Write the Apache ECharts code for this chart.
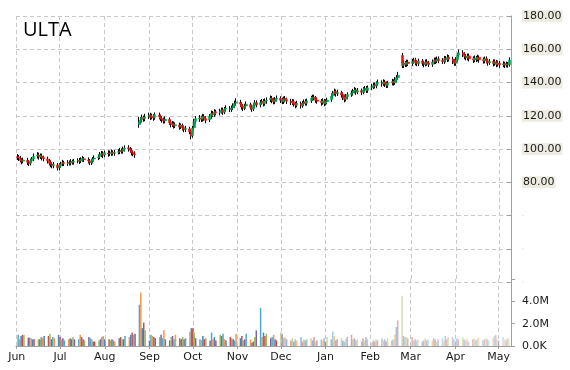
<!DOCTYPE html>
<html><head><meta charset="utf-8">
<script src="https://cdn.jsdelivr.net/npm/echarts@6/dist/echarts.min.js"></script>
<style>html,body{margin:0;padding:0;background:#fff}#c{width:570px;height:370px}</style>
</head><body><div id="c"></div>
<script>
const ticker = 'ULTA';
const firstTradingDay = [2014, 5, 2];          // 2 Jun 2014 (weekdays follow)
const axisStart = [2014, 5, 1];
const axisEnd = [2015, 4, 9];
const monthNames = ['Jan','Feb','Mar','Apr','May','Jun','Jul','Aug','Sep','Oct','Nov','Dec'];
const priceTicks = [80, 100, 120, 140, 160, 180];
const volumeTicks = {0: '0.0K', 2: '2.0M', 4: '4.0M'};

const opens = [
95.4,95.1,94.4,93.0,92.7, 93.2,92.0,91.5,92.9,94.1, 95.8,96.2,95.3,95.7,94.9, 94.0,92.8,91.6,90.9,90.0,
90.4,88.9,89.9,91.2,91.8, 91.3,91.9,91.6,92.4,92.1, 92.7,93.0,92.8,93.9,94.1, 93.4,92.9,91.9,92.6,94.0,
94.8,95.4,96.6,97.1,96.4, 97.6,97.2,97.5,98.0,97.5, 98.1,98.5,99.1,98.7,99.9, 100.8,100.0,99.1,97.9,97.0,
114.8,116.5,117.6,118.8,118.2, 119.5,120.3,119.2,119.6,118.9, 120.4,119.4,118.3,117.5,116.9, 117.8,116.0,114.8,115.1,114.0,
114.5,113.3,114.0,112.9,111.8, 112.1,110.2,108.1,112.8,116.7, 118.0,118.7,118.0,119.6,118.3, 117.5,119.8,121.2,120.9,122.4,
121.8,122.7,123.5,122.2,124.0, 124.4,123.9,124.8,126.1,127.6, 128.0,126.9,125.3,124.7,125.9, 126.7,125.2,124.1,126.3,127.9,
126.6,128.0,128.7,127.3,128.9, 129.6,130.6,129.2,128.5,129.9, 130.4,129.4,128.6,130.3,129.7, 128.7,128.0,128.5,127.1,126.4,
127.3,126.1,127.3,128.4,127.6, 129.0,130.5,131.1,130.7,129.5, 128.8,127.9,129.0,127.5,128.4, 129.7,131.9,133.5,134.6,133.3,
133.8,132.7,131.1,129.9,131.6, 132.8,133.7,134.9,135.6,134.3, 135.1,134.2,135.7,136.5,135.3, 136.9,137.6,138.5,138.0,139.4,
140.0,139.3,140.4,139.1,138.3, 139.7,140.6,139.9,141.7,143.0, 156.2,150.4,151.7,150.9,152.3, 151.5,152.7,153.5,152.1,151.4,
152.9,151.6,151.0,152.5,151.7, 150.9,152.4,153.6,152.9,154.2, 153.3,152.7,154.4,153.8,155.3, 154.1,152.9,151.6,153.7,156.5,
157.9,157.0,155.7,154.9,156.0, 154.3,153.6,154.8,154.0,155.2, 153.7,153.0,154.3,153.1,151.9, 152.7,151.5,152.4,151.0,151.7,
150.6,151.3,150.5,151.1,150.7
];
const closes = [
95.0,94.6,93.2,92.5,93.4, 92.1,91.3,92.8,93.9,95.6, 96.4,95.2,96.0,94.8,94.1, 93.0,91.5,90.8,89.9,90.6,
88.6,89.8,91.0,91.9,91.2, 91.8,91.5,92.3,92.0,92.6, 93.1,92.7,93.8,94.2,93.5, 93.0,91.8,92.5,93.9,94.6,
95.2,96.5,97.3,96.2,97.8, 97.0,97.6,98.1,97.4,97.9, 98.4,99.0,98.6,99.8,100.6, 100.1,99.2,97.8,97.1,96.5,
116.2,117.5,118.9,118.0,119.3, 120.2,119.0,119.8,118.7,120.6, 119.5,118.2,117.6,116.8,118.0, 115.9,114.7,115.2,113.9,114.6,
113.2,114.1,112.8,111.7,112.3, 110.4,107.8,112.6,116.5,118.2, 118.6,117.9,119.5,118.4,117.2, 119.6,121.4,120.8,122.3,121.7,
122.6,123.4,122.1,123.9,124.5, 123.8,124.6,126.0,127.3,128.2, 127.0,125.2,124.6,125.8,126.9, 125.1,124.0,126.2,127.8,126.5,
127.9,128.6,127.2,128.8,129.4, 130.5,129.1,128.4,129.8,130.6, 129.3,128.5,130.2,129.6,128.8, 127.9,128.6,127.0,126.3,127.4,
126.0,127.2,128.3,127.5,128.9, 130.4,131.2,130.6,129.4,128.7, 127.8,128.9,127.4,128.3,129.5, 131.8,133.4,134.5,133.2,134.0,
132.6,131.0,129.8,131.5,132.7, 133.6,134.8,135.5,134.2,135.0, 134.1,135.6,136.4,135.2,136.8, 137.5,138.4,137.9,139.3,140.1,
139.2,140.3,139.0,138.2,139.6, 140.5,139.8,141.6,142.9,144.2, 150.3,151.6,150.8,152.2,151.4, 152.6,153.4,152.0,151.3,152.8,
151.5,150.9,152.4,151.6,150.8, 152.3,153.5,152.8,154.1,153.2, 152.6,154.3,153.7,155.2,154.0, 152.8,151.5,153.6,156.4,157.8,
156.9,155.6,154.8,155.9,154.2, 153.5,154.7,153.9,155.1,153.6, 152.9,154.2,153.0,151.8,152.6, 151.4,152.3,150.9,151.6,150.5,
151.2,150.4,151.0,150.6,153.5
];
const lows = [
93.4,92.8,91.9,90.8,91.4, 90.4,89.7,90.1,91.6,92.7, 94.3,93.6,94.0,93.1,92.6, 91.3,90.1,89.0,88.4,88.4,
87.1,87.3,88.7,89.7,89.8, 89.8,90.1,90.1,90.6,90.6, 91.4,91.0,91.6,92.3,92.1, 91.3,90.3,90.4,91.4,92.5,
93.3,93.9,95.2,94.5,95.1, 95.3,95.8,95.9,96.0,95.9, 96.7,96.9,97.2,97.2,98.5, 98.4,97.7,96.1,95.6,94.7,
112.8,114.9,116.0,116.4,116.7, 118.0,117.4,117.8,117.0,117.6, 117.8,116.8,115.9,115.3,115.4, 114.4,113.0,113.3,112.3,112.6,
111.6,112.0,111.1,110.1,110.2, 108.9,105.8,106.8,111.3,115.2, 116.3,116.3,116.5,117.0,115.5, 116.2,118.2,119.2,119.4,120.2,
120.2,121.3,120.5,121.0,122.4, 122.2,122.3,123.4,124.6,126.0, 125.3,123.7,122.8,123.4,124.3, 123.7,122.3,122.9,124.8,125.1,
125.1,126.6,125.6,126.0,127.2, 128.2,127.5,126.9,127.0,128.5, 127.7,127.0,127.1,128.1,127.1, 126.4,126.4,125.5,124.5,125.1,
124.3,124.8,125.8,126.1,126.1, 127.7,128.9,129.2,127.8,127.2, 126.1,126.6,125.7,126.2,126.9, 128.4,130.4,132.1,131.5,131.9,
130.9,129.5,128.1,128.6,130.1, 131.4,132.1,133.5,132.6,133.0, 132.4,132.9,134.1,133.7,133.8, 135.4,136.0,136.4,136.5,138.0,
137.5,138.0,137.3,136.7,136.8, 138.3,138.1,138.6,140.1,141.7, 148.7,148.8,149.3,149.4,149.9, 149.9,151.3,150.3,149.8,149.9,
150.1,149.1,149.7,150.0,149.3, 149.4,151.0,151.1,151.6,151.6, 151.1,151.2,152.2,152.3,152.6, 151.1,150.0,150.1,152.4,154.9,
155.3,153.9,153.3,153.3,152.7, 151.8,152.2,152.2,152.7,151.9, 151.4,151.5,151.5,150.1,150.6, 149.7,150.1,149.2,149.6,148.8,
149.2,148.7,149.1,148.9,149.5
];
const highs = [
97.0,96.4,95.9,94.5,94.8, 94.7,93.3,94.2,95.2,97.3, 98.1,97.8,97.3,97.2,96.0, 95.4,93.9,93.2,92.0,92.2,
91.6,91.4,92.3,93.5,92.9, 93.3,93.1,93.9,93.6,94.1, 94.4,94.6,95.0,95.9,95.2, 95.0,94.0,94.1,95.1,96.2,
96.7,98.2,98.8,98.6,99.0, 99.2,99.0,99.7,99.2,99.5, 99.9,100.7,100.3,101.4,102.2, 102.3,101.2,100.5,99.1,98.6,
119.2,119.3,120.7,120.1,121.2, 121.9,121.8,121.3,121.0,122.0, 121.9,120.7,119.8,118.9,119.6, 119.0,117.5,116.8,116.6,116.0,
115.9,115.4,115.3,114.1,113.9, 113.4,111.7,114.0,118.2,119.8, 120.4,120.0,121.1,120.9,119.8, 121.0,123.1,122.8,124.0,123.6,
124.2,124.9,124.9,125.3,126.3, 125.8,126.2,127.5,129.1,130.5, 129.6,128.2,126.9,127.2,128.6, 127.9,126.7,127.6,129.4,129.3,
129.5,130.1,130.0,130.4,131.0, 132.2,131.9,130.8,131.2,132.2, 131.7,130.9,131.6,131.9,130.9, 130.2,130.0,129.9,128.4,129.0,
128.5,128.8,129.8,129.9,130.3, 132.0,132.7,132.6,131.9,131.0, 130.0,130.5,130.1,129.9,130.9, 133.5,134.9,136.3,135.8,135.7,
135.0,134.1,132.3,133.1,134.1, 135.2,136.2,137.2,136.8,136.7, 136.4,137.2,137.9,137.9,138.2, 139.2,139.9,140.0,140.7,141.8,
141.3,141.9,141.6,140.6,141.0, 142.2,141.9,143.2,144.4,146.4, 157.8,153.3,152.9,153.8,153.7, 154.2,154.9,154.9,153.4,154.4,
154.1,153.1,153.8,154.0,153.0, 153.9,155.0,155.1,155.6,155.7, 154.6,156.0,155.9,156.9,156.5, 155.5,154.1,155.2,157.9,159.8,
159.5,158.2,157.1,157.4,157.4, 155.7,156.3,156.0,156.7,156.3, 155.1,155.6,155.7,154.3,154.2, 153.9,153.9,153.6,153.2,152.9,
152.8,152.5,152.6,152.3,155.1
];
// volume in millions of shares
const volumes = [
1.0,0.6,0.9,1.0,1.0, 0.75,0.75,0.7,0.6,0.6, 0.6,0.6,0.8,0.7,0.9, 0.9,1.1,0.6,0.8,0.7,
1.0,0.8,0.6,0.7,0.5, 0.6,0.7,0.6,0.8,0.6, 0.6,1.0,0.8,0.6,0.5, 0.8,0.7,0.6,0.4,0.4,
0.5,0.6,0.8,0.9,0.6, 0.6,0.5,0.6,0.5,0.4, 0.7,0.8,0.6,0.6,0.9, 0.8,1.0,1.2,1.0,1.1,
3.7,4.8,1.6,2.1,1.4, 0.5,1.0,0.9,0.8,0.7, 0.8,1.0,0.7,1.4,0.6, 0.5,0.8,0.9,0.6,1.0,
0.7,0.6,0.8,0.6,0.7, 1.3,1.6,1.6,1.2,0.7, 0.6,0.5,0.9,0.6,0.7, 0.5,1.2,0.6,0.8,0.5,
1.0,0.9,1.1,0.6,0.5, 0.8,0.7,0.6,0.5,1.1, 0.7,0.9,0.5,0.6,1.1, 0.6,0.3,0.4,0.8,1.4,
3.4,0.8,1.2,0.9,1.1, 0.7,0.8,1.0,0.6,0.5, 1.2,1.1,0.7,0.8,0.6, 0.5,0.7,0.4,0.6,0.5,
0.8,0.4,0.6,0.5,0.6, 0.7,0.5,0.8,0.4,0.5, 0.6,0.5,0.7,0.4,0.8, 0.6,1.3,0.9,0.5,0.6,
0.7,0.5,0.4,0.6,0.8, 1.0,0.6,0.7,0.5,0.6, 0.4,0.7,0.5,0.8,0.6, 0.3,0.5,0.4,0.6,0.5,
0.7,0.5,0.6,0.4,0.7, 0.5,0.6,1.0,1.7,2.3, 4.5,0.9,0.8,0.8,0.7, 0.8,0.5,0.6,0.5,0.6,
0.4,0.5,0.7,0.5,0.6, 0.5,0.7,0.6,0.4,0.6, 0.7,0.5,0.9,0.6,0.8, 0.8,0.6,0.5,0.7,0.6,
0.8,0.6,0.5,0.7,0.4, 0.6,0.7,0.5,0.6,0.8, 0.5,0.6,0.7,0.6,0.5, 0.7,0.9,1.0,0.6,0.5,
0.8,0.6,0.5,0.7,0.6
];
const volumePalette = ['#4bacc6','#f79646','#4f81bd','#c0504d','#9bbb59','#8064a2'];

// trading-day timestamps (weekdays) for each value
const DAY = 86400000;
const dates = [];
{
  let t = Date.UTC(...firstTradingDay);
  while (dates.length < closes.length) {
    const wd = new Date(t).getUTCDay();
    if (wd !== 0 && wd !== 6) dates.push(t);
    t += DAY;
  }
}
const tMin = Date.UTC(...axisStart), tMax = Date.UTC(...axisEnd);
const fadeStart = Date.UTC(2014, 11, 1);

const wickData = dates.map((t, i) => [t, opens[i], closes[i], lows[i], highs[i]]);
const bodyData = dates.map((t, i) => [t, opens[i], closes[i], Math.min(opens[i], closes[i]), Math.max(opens[i], closes[i])]);
const volData = dates.map((t, i) => {
  let op = 1;
  if (t >= fadeStart) op = 0.62 - 0.3 * (t - fadeStart) / (tMax - fadeStart);
  return { value: [t, volumes[i]], itemStyle: { color: volumePalette[i % volumePalette.length], opacity: op } };
});

const FONT = 'DejaVu Sans';
const gridDash = { color: '#c8c8c8', type: [4, 3], width: 1 };
const axisGray = '#a0a0a0';

const chart = echarts.init(document.getElementById('c'), null, { renderer: 'canvas' });
chart.setOption({
  animation: false,
  useUTC: true,
  backgroundColor: '#ffffff',
  title: {
    text: ticker, left: 23, top: 20, padding: 0,
    textStyle: { fontFamily: 'Open Sans', fontSize: 20, fontWeight: 'normal', color: '#000' }
  },
  grid: [
    { left: 16, right: 59, top: 16, bottom: 88 },
    { left: 16, right: 59, top: 279, bottom: 24 }
  ],
  xAxis: [
    {
      type: 'time', gridIndex: 0, min: tMin, max: tMax,
      splitNumber: 12, minInterval: 28 * DAY, maxInterval: 31 * DAY,
      axisLine: { show: false }, axisTick: { show: false }, axisLabel: { show: false },
      splitLine: { show: true, lineStyle: gridDash }
    },
    {
      type: 'time', gridIndex: 1, min: tMin, max: tMax,
      splitNumber: 12, minInterval: 28 * DAY, maxInterval: 31 * DAY,
      axisLine: { show: true, lineStyle: { color: axisGray, width: 1 } },
      axisTick: { show: true, length: 3, lineStyle: { color: axisGray } },
      axisLabel: {
        show: true, fontFamily: FONT, fontSize: 11, color: '#1a1a1a', margin: 6,
        hideOverlap: false,
        formatter: v => monthNames[new Date(v).getUTCMonth()]
      },
      splitLine: { show: true, lineStyle: gridDash }
    }
  ],
  yAxis: [
    {
      type: 'value', gridIndex: 0, position: 'right', min: 20, max: 180, interval: 20,
      axisLine: { show: true, lineStyle: { color: axisGray, width: 1 } },
      axisTick: { show: true, inside: true, length: 4, lineStyle: { color: axisGray } },
      axisLabel: {
        fontFamily: FONT, fontSize: 11, color: '#1a1a1a', margin: 11,
        backgroundColor: '#EEECE1', padding: [1, 1, 0, 1],
        formatter: v => priceTicks.includes(v) ? v.toFixed(2) : ''
      },
      splitLine: { show: true, lineStyle: gridDash }
    },
    {
      type: 'value', gridIndex: 1, position: 'right', min: 0, max: 6, interval: 2,
      axisLine: { show: true, lineStyle: { color: axisGray, width: 1 } },
      axisTick: { show: true, length: 4, lineStyle: { color: axisGray } },
      axisLabel: {
        fontFamily: FONT, fontSize: 11, color: '#1a1a1a', margin: 11,
        formatter: v => volumeTicks[v] || ''
      },
      splitLine: { show: false }
    }
  ],
  series: [
    {
      name: 'wick', type: 'candlestick', xAxisIndex: 0, yAxisIndex: 0,
      data: wickData, barWidth: 1, encode: { x: 0, y: [1, 2, 3, 4] },
      itemStyle: { color: '#000', color0: '#000', borderColor: '#000', borderColor0: '#000', borderWidth: 1 }
    },
    {
      name: 'body', type: 'candlestick', xAxisIndex: 0, yAxisIndex: 0,
      data: bodyData, barWidth: 2.5, encode: { x: 0, y: [1, 2, 3, 4] },
      itemStyle: { color: '#00a550', color0: '#ee1111', borderColor: '#00a550', borderColor0: '#ee1111', borderWidth: 0.6 }
    },
    {
      name: 'volume', type: 'bar', xAxisIndex: 1, yAxisIndex: 1,
      data: volData, barWidth: 1.5
    }
  ]
});
</script></body></html>
